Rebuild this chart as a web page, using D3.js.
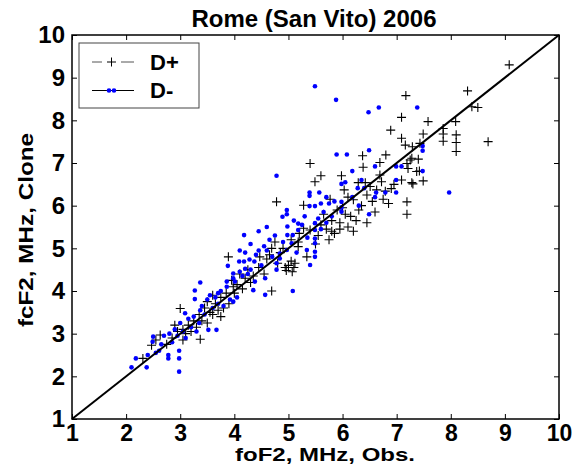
<!DOCTYPE html>
<html>
<head>
<meta charset="utf-8">
<script src="https://cdn.jsdelivr.net/npm/d3@7"></script>
<style>
  body { margin: 0; background: #fff; }
  text { font-family: "Liberation Sans", Arial, sans-serif; font-weight: bold; }
</style>
</head>
<body>
<div id="chart"></div>
<script>
// D+ : observed foF2 vs clone fcF2 (black crosses)
const dPlus = [
  [2.31,2.42],[2.47,2.73],[2.55,2.85],[2.63,2.97],[2.75,2.75],[2.85,2.90],[2.90,3.20],[2.95,3.05],
  [3.00,3.59],[3.05,2.85],[3.05,3.10],[3.10,3.00],[3.15,3.20],[3.20,3.05],[3.25,3.30],[3.30,3.15],
  [3.35,3.45],[3.37,2.87],[3.40,3.30],[3.45,3.60],[3.50,3.25],[3.50,3.75],[3.55,3.50],[3.60,3.45],
  [3.60,3.90],[3.65,3.70],[3.70,3.55],[3.75,3.40],[3.75,3.85],[3.80,3.60],[3.85,3.95],[3.90,3.70],
  [3.89,4.80],[3.95,4.25],[3.98,4.10],[4.00,3.95],[4.05,4.15],[4.10,4.40],[4.15,4.05],[4.20,4.30],
  [4.25,4.50],[4.30,4.20],[4.35,4.35],[4.45,4.55],[4.47,4.80],[4.55,4.40],[4.60,4.75],[4.65,4.85],
  [4.69,4.00],[4.69,5.00],[4.75,5.15],[4.78,6.09],[4.80,4.65],[4.85,4.90],[4.90,5.00],[4.94,4.55],
  [4.96,4.48],[5.00,4.60],[5.05,4.70],[5.05,5.20],[5.07,4.45],[5.10,4.55],[5.12,4.65],[5.18,5.04],
  [5.18,5.15],[5.20,5.35],[5.28,5.47],[5.28,6.01],[5.34,4.80],[5.40,5.43],[5.40,6.99],[5.49,6.56],
  [5.50,5.10],[5.55,5.30],[5.60,5.55],[5.60,6.70],[5.65,5.80],[5.70,5.45],[5.75,5.20],[5.77,6.15],
  [5.80,5.65],[5.80,5.40],[5.85,5.35],[5.90,5.90],[5.95,5.60],[5.95,5.45],[5.98,6.70],[6.00,5.95],
  [6.03,6.37],[6.05,5.80],[6.10,5.50],[6.10,6.20],[6.15,5.75],[6.20,5.40],[6.20,6.14],[6.25,5.65],
  [6.29,6.54],[6.30,5.90],[6.35,6.00],[6.37,7.17],[6.38,6.90],[6.42,6.54],[6.45,5.60],[6.45,6.25],
  [6.51,6.45],[6.55,6.10],[6.60,5.85],[6.63,6.37],[6.69,7.01],[6.69,6.72],[6.72,6.56],[6.75,6.15],
  [6.79,6.34],[6.80,7.19],[6.85,6.05],[6.89,7.77],[6.90,6.40],[6.95,6.50],[7.09,8.07],[7.09,7.58],
  [7.09,6.60],[7.16,7.42],[7.17,8.58],[7.19,6.99],[7.19,6.09],[7.19,5.80],[7.21,6.87],[7.25,7.07],
  [7.28,6.54],[7.28,7.11],[7.29,7.38],[7.30,6.51],[7.37,6.80],[7.40,7.09],[7.42,6.81],[7.43,7.46],
  [7.49,7.68],[7.49,6.58],[7.58,7.97],[7.86,7.81],[7.86,7.68],[7.86,7.51],[8.09,7.97],[8.10,7.66],
  [8.10,7.48],[8.10,7.27],[8.31,8.69],[8.39,8.32],[8.50,8.30],[8.69,7.50],[9.08,9.30]
];

// D- : blue dots
const dMinus = [
  [2.10,2.21],[2.18,2.42],[2.38,2.21],[2.40,2.50],[2.49,2.81],[2.50,2.93],[2.55,2.55],[2.61,2.60],
  [2.65,2.75],[2.70,2.95],[2.78,2.50],[2.78,2.42],[2.80,3.00],[2.85,2.80],[2.90,3.10],[2.95,2.95],
  [2.98,2.11],[2.98,2.42],[2.98,2.60],[3.00,3.25],[3.05,3.05],[3.09,3.48],[3.10,2.90],[3.15,3.35],
  [3.20,3.15],[3.25,3.40],[3.27,4.01],[3.27,3.81],[3.30,3.05],[3.35,3.25],[3.37,4.20],[3.37,3.55],
  [3.40,3.65],[3.45,3.45],[3.50,3.80],[3.52,3.09],[3.55,3.90],[3.60,3.60],[3.65,3.85],[3.67,3.09],
  [3.70,3.95],[3.70,3.70],[3.75,4.00],[3.80,3.65],[3.86,4.22],[3.86,4.10],[3.88,4.59],[3.92,3.80],
  [3.98,3.75],[3.98,4.41],[3.98,4.30],[4.01,4.22],[4.05,3.85],[4.09,4.69],[4.10,4.45],[4.10,4.95],
  [4.15,4.35],[4.18,4.69],[4.18,5.31],[4.20,4.52],[4.20,4.90],[4.25,4.40],[4.28,4.74],[4.30,4.50],
  [4.30,5.10],[4.35,4.02],[4.37,4.69],[4.38,4.22],[4.40,4.85],[4.45,4.95],[4.45,5.40],[4.50,4.60],
  [4.55,5.05],[4.57,4.30],[4.57,3.91],[4.60,4.95],[4.60,5.50],[4.65,5.20],[4.70,4.80],[4.75,5.30],
  [4.78,4.65],[4.78,4.50],[4.78,6.70],[4.84,4.88],[4.84,4.76],[4.89,5.74],[4.90,5.15],[4.97,5.90],
  [4.97,5.80],[4.97,4.96],[4.98,5.51],[4.98,5.31],[5.06,5.12],[5.08,5.31],[5.08,4.00],[5.10,5.65],
  [5.15,4.90],[5.18,5.58],[5.18,5.43],[5.25,5.55],[5.30,5.75],[5.34,4.96],[5.35,5.25],[5.39,6.31],
  [5.39,6.23],[5.39,5.99],[5.40,4.61],[5.49,5.99],[5.49,5.59],[5.49,5.43],[5.49,5.23],[5.49,5.12],
  [5.49,4.92],[5.49,4.80],[5.49,8.80],[5.55,5.70],[5.57,6.31],[5.60,5.45],[5.60,6.05],[5.65,5.85],
  [5.70,5.60],[5.70,6.20],[5.75,6.05],[5.80,5.75],[5.85,6.10],[5.88,8.48],[5.89,7.20],[5.98,6.51],
  [5.98,6.09],[5.98,5.96],[5.98,5.86],[6.05,6.55],[6.08,7.20],[6.18,6.81],[6.18,6.20],[6.28,6.41],
  [6.30,6.00],[6.35,6.60],[6.40,6.41],[6.48,8.19],[6.49,7.30],[6.49,5.80],[6.60,6.92],[6.60,6.20],
  [6.62,6.31],[6.67,8.30],[6.79,6.31],[6.99,6.92],[6.99,6.60],[6.99,6.31],[7.09,6.92],[7.38,8.30],
  [7.48,7.40],[7.48,7.29],[7.48,6.81],[7.97,6.31]
];

const ticks = [1, 2, 3, 4, 5, 6, 7, 8, 9, 10];
const seriesNames = ["D+", "D-"];

const width = 579, height = 472;
const margin = { top: 35, right: 20, bottom: 53, left: 72 };

const svg = d3.select("#chart")
  .append("svg")
  .attr("width", width)
  .attr("height", height);

const x = d3.scaleLinear().domain([1, 10]).range([margin.left, width - margin.right]);
const y = d3.scaleLinear().domain([1, 10]).range([height - margin.bottom, margin.top]);

// axes, ticks pointing inwards
const xAxis = svg.append("g")
  .attr("transform", `translate(0,${height - margin.bottom})`)
  .call(d3.axisBottom(x).tickValues(ticks).tickSizeInner(-5).tickSizeOuter(0).tickPadding(6));
const yAxis = svg.append("g")
  .attr("transform", `translate(${margin.left},0)`)
  .call(d3.axisLeft(y).tickValues(ticks).tickSizeInner(-5).tickSizeOuter(0).tickPadding(7));
svg.append("g")
  .attr("transform", `translate(0,${margin.top})`)
  .call(d3.axisTop(x).tickValues(ticks).tickSizeInner(-5).tickSizeOuter(0).tickFormat(""));
svg.append("g")
  .attr("transform", `translate(${width - margin.right},0)`)
  .call(d3.axisRight(y).tickValues(ticks).tickSizeInner(-5).tickSizeOuter(0).tickFormat(""));

xAxis.selectAll(".tick text").style("font-size", "23px").attr("fill", "#000");
yAxis.selectAll(".tick text").style("font-size", "24px").attr("fill", "#000");
svg.selectAll(".tick line").attr("stroke", "#000");
svg.selectAll(".domain").remove();

// frame
svg.append("rect")
  .attr("x", x(1))
  .attr("y", y(10))
  .attr("width", x(10) - x(1))
  .attr("height", y(1) - y(10))
  .attr("fill", "none")
  .attr("stroke", "#000")
  .attr("stroke-width", 1.5);

const plusPath = "M-4.5,0H4.5M0,-4.5V4.5";

// D+ crosses
svg.append("g")
  .selectAll("path")
  .data(dPlus)
  .join("path")
  .attr("transform", d => `translate(${x(d[0])},${y(d[1])})`)
  .attr("d", plusPath)
  .attr("fill", "none")
  .attr("stroke", "#000")
  .attr("stroke-width", 1.1);

// D- dots
svg.append("g")
  .selectAll("circle")
  .data(dMinus)
  .join("circle")
  .attr("cx", d => x(d[0]))
  .attr("cy", d => y(d[1]))
  .attr("r", 2.3)
  .attr("fill", "#0000ff");

// 1:1 line
svg.append("line")
  .attr("x1", x(1)).attr("y1", y(1))
  .attr("x2", x(10)).attr("y2", y(10))
  .attr("stroke", "#000")
  .attr("stroke-width", 2);

// legend
const legend = svg.append("g");
legend.append("rect")
  .attr("x", 79).attr("y", 43)
  .attr("width", 120).attr("height", 65)
  .attr("fill", "#fff")
  .attr("stroke", "#444")
  .attr("stroke-width", 1);

// D+ entry: two grey dashes around a cross
legend.selectAll("line.dash")
  .data([[92, 102], [121, 134]])
  .join("line")
  .attr("class", "dash")
  .attr("x1", d => d[0]).attr("x2", d => d[1])
  .attr("y1", 62).attr("y2", 62)
  .attr("stroke", "#555");
legend.append("path")
  .attr("transform", "translate(111.5,62)")
  .attr("d", plusPath)
  .attr("fill", "none")
  .attr("stroke", "#000");

// D- entry: solid line with two blue dots
legend.append("line")
  .attr("x1", 92).attr("x2", 134).attr("y1", 90.5).attr("y2", 90.5)
  .attr("stroke", "#000");
legend.selectAll("circle")
  .data([109, 114])
  .join("circle")
  .attr("cx", d => d).attr("cy", 90.5).attr("r", 2.3)
  .attr("fill", "#0000ff");

legend.selectAll("text")
  .data(seriesNames)
  .join("text")
  .attr("x", 150)
  .attr("y", (d, i) => 69.5 + i * 28)
  .style("font-size", "22px")
  .text(d => d);

// titles
svg.append("text")
  .attr("x", 314)
  .attr("y", 27)
  .attr("text-anchor", "middle")
  .style("font-size", "24px")
  .text("Rome (San Vito) 2006");

svg.append("text")
  .attr("x", 325)
  .attr("y", 461)
  .attr("text-anchor", "middle")
  .attr("textLength", 180)
  .attr("lengthAdjust", "spacingAndGlyphs")
  .style("font-size", "19px")
  .text("foF2, MHz, Obs.");

svg.append("text")
  .attr("transform", "translate(33,230) rotate(-90)")
  .attr("text-anchor", "middle")
  .attr("textLength", 194)
  .attr("lengthAdjust", "spacingAndGlyphs")
  .style("font-size", "21px")
  .text("fcF2, MHz, Clone");
</script>
</body>
</html>
